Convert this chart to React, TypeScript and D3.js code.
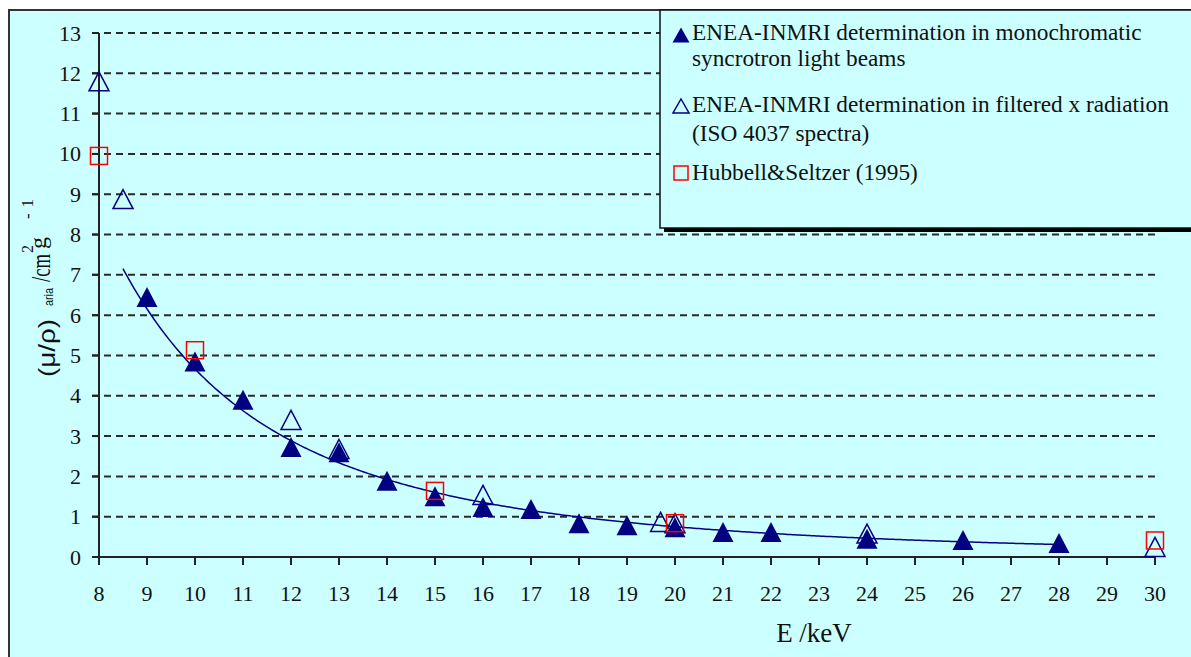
import React from 'react';
import * as d3 from 'd3';

const W = 1191;
const H = 657;

// Axis ticks
const xTickValues = d3.range(8, 31);
const yTickValues = d3.range(0, 14);
const gridValues = d3.range(1, 14);

// ENEA-INMRI, monochromatic synchrotron light beams
const monoEnergy = [9, 10, 11, 12, 13, 14, 15, 16, 17, 18, 19, 20, 21, 22, 24, 26, 28];
const monoMu = [6.45, 4.85, 3.9, 2.73, 2.6, 1.89, 1.51, 1.24, 1.19, 0.84, 0.79, 0.74, 0.62, 0.62, 0.45, 0.42, 0.35];

// ENEA-INMRI, filtered x radiation (ISO 4037 spectra)
const filtEnergy = [8, 8.5, 12, 13, 16, 19.7, 20, 24, 30];
const filtMu = [11.8, 8.88, 3.4, 2.68, 1.54, 0.87, 0.84, 0.58, 0.25];

// Hubbell & Seltzer (1995)
const hsEnergy = [8, 10, 15, 20, 30];
const hsMu = [9.95, 5.13, 1.64, 0.84, 0.41];

const legendItems = [
  { kind: 'filled', lines: ['ENEA-INMRI determination in monochromatic', 'syncrotron light beams'] },
  { kind: 'open', lines: ['ENEA-INMRI determination in filtered x radiation', '(ISO 4037 spectra)'] },
  { kind: 'square', lines: ['Hubbell&Seltzer (1995)'] },
];

const NAVY = '#000080';
const RED = '#ff0000';
const BG = '#ccffff';
const SERIF = '"Liberation Serif", "Times New Roman", serif';
const SANS = '"Liberation Sans", Arial, sans-serif';

function triPath(w: number, h: number) {
  return `M0,${-h / 2}L${w / 2},${h / 2}L${-w / 2},${h / 2}Z`;
}

export default function App() {
  const x = d3.scaleLinear().domain([8, 30]).range([99, 1155]);
  const y = d3.scaleLinear().domain([0, 13]).range([557, 33]);

  // Power-law trendline (least squares in log-log space) through the synchrotron data
  const lx = monoEnergy.map(Math.log);
  const ly = monoMu.map(Math.log);
  const mx = d3.mean(lx) as number;
  const my = d3.mean(ly) as number;
  const b =
    d3.sum(lx.map((v, i) => (v - mx) * (ly[i] - my))) / d3.sum(lx.map((v) => (v - mx) ** 2));
  const a = Math.exp(my - b * mx);
  const fitE = d3.range(8.5, 28.0001, 0.05);
  const fitLine = d3
    .line<number>()
    .x((e) => x(e))
    .y((e) => y(a * Math.pow(e, b)));

  const legendLineY = [[40, 66], [112, 141], [180]];
  const legendMarkerY = [35, 106, 173];

  return (
    <svg
      width={W}
      height={H}
      style={{ position: 'absolute', left: 0, top: 0, display: 'block' }}
    >
      <rect x={0} y={0} width={W} height={H} fill="#ffffff" />
      <rect x={9} y={10} width={W} height={H} fill={BG} stroke="#333" strokeWidth={2} />

      {/* gridlines */}
      {gridValues.map((v) => (
        <line
          key={'g' + v}
          x1={92}
          x2={x(30)}
          y1={y(v)}
          y2={y(v)}
          stroke="#2a2a2a"
          strokeWidth={2}
          strokeDasharray="7,5"
        />
      ))}

      {/* axes */}
      <line x1={x(8)} x2={x(8)} y1={y(13)} y2={y(0)} stroke="#222" strokeWidth={2} />
      <line x1={x(8)} x2={x(30)} y1={y(0)} y2={y(0)} stroke="#222" strokeWidth={2} />
      {yTickValues.map((v) => (
        <g key={'yt' + v}>
          <line x1={92} x2={x(8)} y1={y(v)} y2={y(v)} stroke="#222" strokeWidth={2} />
          <text
            x={81}
            y={y(v) + 7.5}
            textAnchor="end"
            fontFamily={SERIF}
            fontSize={22}
            fill="#111"
          >
            {v}
          </text>
        </g>
      ))}
      {xTickValues.map((v) => (
        <g key={'xt' + v}>
          <line x1={x(v)} x2={x(v)} y1={y(0)} y2={y(0) + 8} stroke="#222" strokeWidth={2} />
          <text
            x={x(v)}
            y={601}
            textAnchor="middle"
            fontFamily={SERIF}
            fontSize={22}
            fill="#111"
          >
            {v}
          </text>
        </g>
      ))}

      {/* axis titles */}
      <text x={814} y={642} textAnchor="middle" fontFamily={SERIF} fontSize={27} fill="#111">
        E /keV
      </text>
      <g transform="rotate(-90)" fill="#111">
        <text x={-377} y={55} fontFamily={SANS} fontSize={24} textLength={58} lengthAdjust="spacingAndGlyphs">
          (μ/ρ)
        </text>
        <text x={-306} y={53} fontFamily={SANS} fontSize={13} textLength={18} lengthAdjust="spacingAndGlyphs">
          aria
        </text>
        <text x={-282} y={50} fontFamily={SERIF} fontSize={28} textLength={28} lengthAdjust="spacingAndGlyphs">
          /cm
        </text>
        <text x={-253} y={33} fontFamily={SERIF} fontSize={16}>
          2
        </text>
        <text x={-249} y={46} fontFamily={SERIF} fontSize={24}>
          g
        </text>
        <text x={-219} y={33} fontFamily={SERIF} fontSize={17} textLength={20} lengthAdjust="spacing">
          -1
        </text>
      </g>

      {/* trendline */}
      <path d={fitLine(fitE) || ''} fill="none" stroke={NAVY} strokeWidth={1.5} />

      {/* monochromatic synchrotron points */}
      {monoEnergy.map((e, i) => (
        <path
          key={'m' + i}
          d={triPath(21, 20)}
          transform={`translate(${x(e)},${y(monoMu[i])})`}
          fill={NAVY}
        />
      ))}
      {/* filtered x radiation points */}
      {filtEnergy.map((e, i) => (
        <path
          key={'f' + i}
          d={triPath(20, 19)}
          transform={`translate(${x(e)},${y(filtMu[i])})`}
          fill="none"
          stroke={NAVY}
          strokeWidth={1.5}
        />
      ))}
      {/* Hubbell & Seltzer reference values */}
      {hsEnergy.map((e, i) => (
        <rect
          key={'h' + i}
          x={x(e) - 8.5}
          y={y(hsMu[i]) - 8.5}
          width={17}
          height={17}
          fill="none"
          stroke={RED}
          strokeWidth={1.5}
        />
      ))}

      {/* legend */}
      <g>
        <rect x={664} y={14} width={W} height={218} fill="#000" />
        <rect x={660} y={10} width={W} height={218} fill={BG} stroke="#111" strokeWidth={1.5} />
        {legendItems.map((it, i) => (
          <g key={'l' + i}>
            {it.kind === 'filled' && (
              <path d={triPath(17, 15)} transform={`translate(681,${legendMarkerY[i]})`} fill={NAVY} />
            )}
            {it.kind === 'open' && (
              <path
                d={triPath(16, 14)}
                transform={`translate(681,${legendMarkerY[i]})`}
                fill="none"
                stroke={NAVY}
                strokeWidth={1.5}
              />
            )}
            {it.kind === 'square' && (
              <rect
                x={674}
                y={legendMarkerY[i] - 7}
                width={14}
                height={14}
                fill="none"
                stroke={RED}
                strokeWidth={1.5}
              />
            )}
            {it.lines.map((t, j) => (
              <text
                key={j}
                x={692}
                y={legendLineY[i][j]}
                fontFamily={SERIF}
                fontSize={23.3}
                fill="#111"
              >
                {t}
              </text>
            ))}
          </g>
        ))}
      </g>
    </svg>
  );
}
